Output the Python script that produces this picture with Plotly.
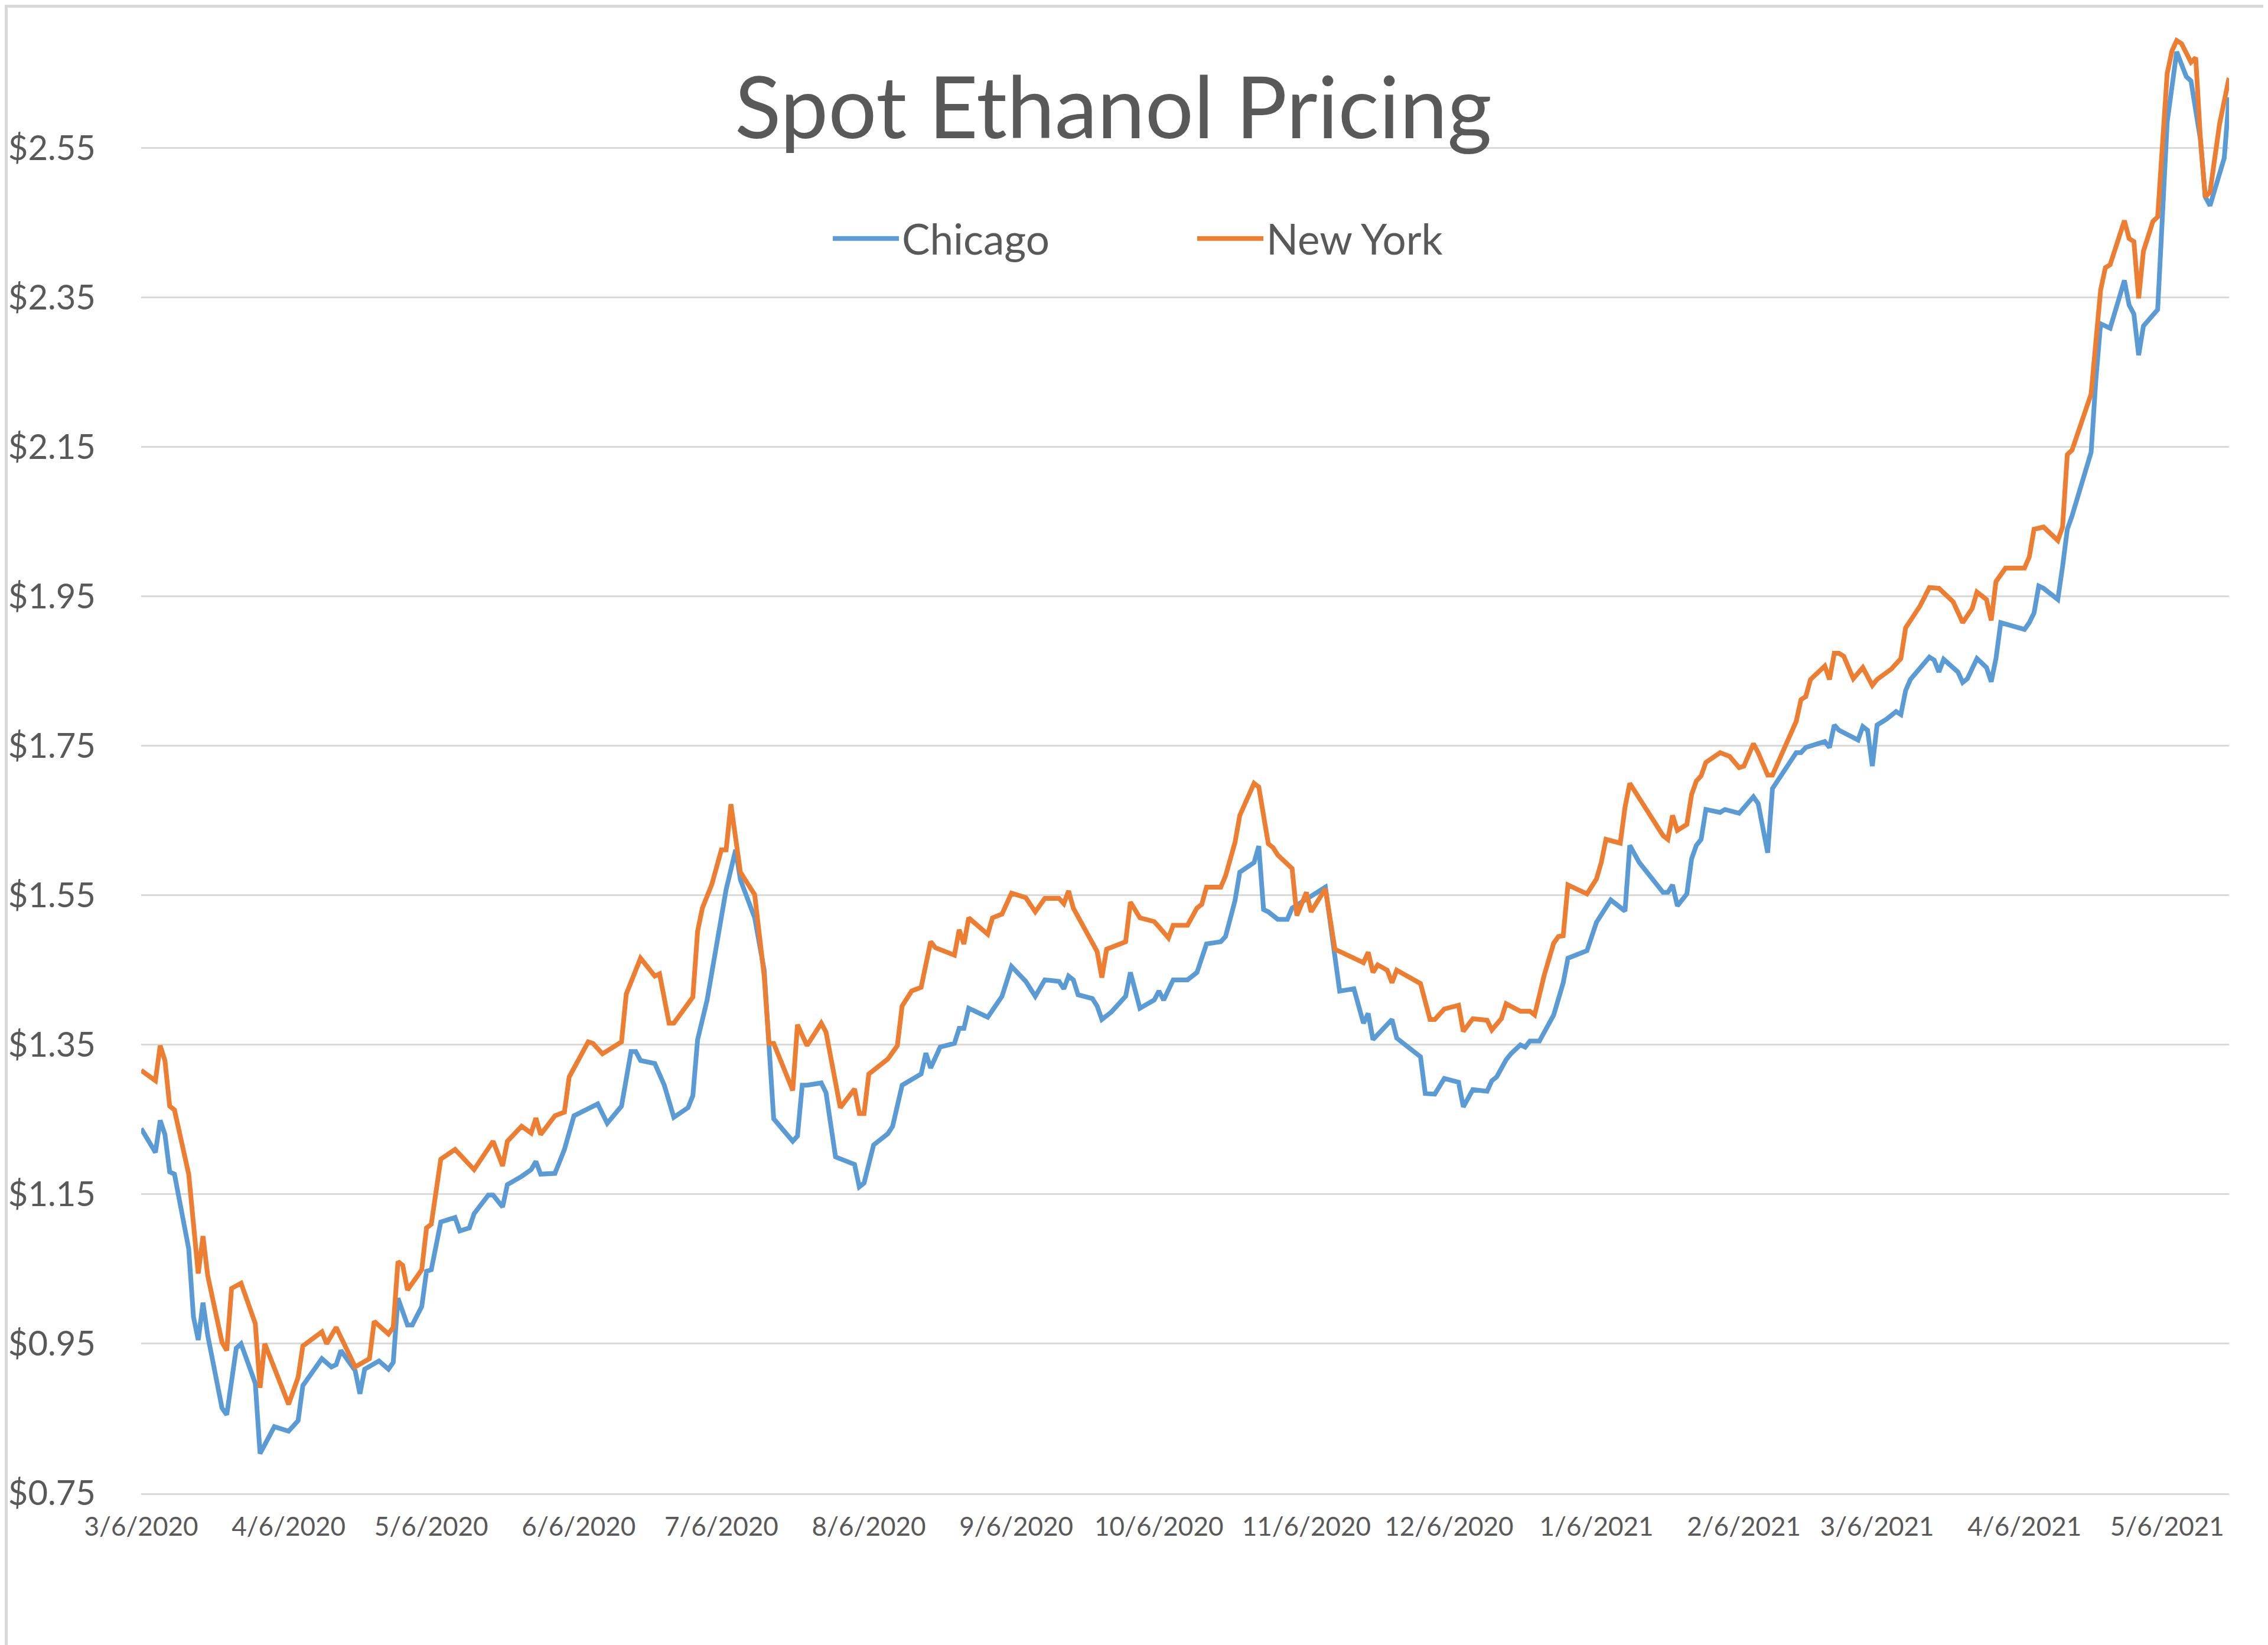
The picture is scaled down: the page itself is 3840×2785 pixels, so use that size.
import plotly.graph_objects as go

# ---------------- data ----------------
chicago_dates = [
    "2020-03-06", "2020-03-09", "2020-03-10", "2020-03-11", "2020-03-12", "2020-03-13", "2020-03-16",
    "2020-03-17", "2020-03-18", "2020-03-19", "2020-03-20", "2020-03-23", "2020-03-24", "2020-03-26",
    "2020-03-27", "2020-03-30", "2020-03-31", "2020-04-03", "2020-04-06", "2020-04-08", "2020-04-09",
    "2020-04-13", "2020-04-15", "2020-04-16", "2020-04-17", "2020-04-20", "2020-04-21", "2020-04-22",
    "2020-04-25", "2020-04-27", "2020-04-28", "2020-04-29", "2020-05-01", "2020-05-02", "2020-05-04",
    "2020-05-05", "2020-05-06", "2020-05-08", "2020-05-11", "2020-05-12", "2020-05-14", "2020-05-15",
    "2020-05-18", "2020-05-19", "2020-05-21", "2020-05-22", "2020-05-25", "2020-05-27", "2020-05-28",
    "2020-05-29", "2020-06-01", "2020-06-03", "2020-06-05", "2020-06-10", "2020-06-12", "2020-06-15",
    "2020-06-17", "2020-06-18", "2020-06-19", "2020-06-22", "2020-06-24", "2020-06-26", "2020-06-29",
    "2020-06-30", "2020-07-01", "2020-07-03", "2020-07-07", "2020-07-09", "2020-07-10", "2020-07-13",
    "2020-07-15", "2020-07-17", "2020-07-21", "2020-07-22", "2020-07-23", "2020-07-24", "2020-07-27",
    "2020-07-28", "2020-07-30", "2020-08-03", "2020-08-04", "2020-08-05", "2020-08-07", "2020-08-10",
    "2020-08-11", "2020-08-13", "2020-08-17", "2020-08-18", "2020-08-19", "2020-08-21", "2020-08-24",
    "2020-08-25", "2020-08-26", "2020-08-27", "2020-08-31", "2020-09-02", "2020-09-03", "2020-09-05",
    "2020-09-08", "2020-09-10", "2020-09-12", "2020-09-15", "2020-09-16", "2020-09-17", "2020-09-18",
    "2020-09-19", "2020-09-22", "2020-09-23", "2020-09-24", "2020-09-26", "2020-09-29", "2020-09-30",
    "2020-10-02", "2020-10-05", "2020-10-06", "2020-10-07", "2020-10-09", "2020-10-12", "2020-10-14",
    "2020-10-16", "2020-10-19", "2020-10-20", "2020-10-22", "2020-10-23", "2020-10-26", "2020-10-27",
    "2020-10-28", "2020-10-29", "2020-10-31", "2020-11-02", "2020-11-03", "2020-11-10", "2020-11-13",
    "2020-11-16", "2020-11-18", "2020-11-19", "2020-11-20", "2020-11-24", "2020-11-25", "2020-11-30",
    "2020-12-01", "2020-12-03", "2020-12-05", "2020-12-08", "2020-12-09", "2020-12-11", "2020-12-14",
    "2020-12-15", "2020-12-16", "2020-12-18", "2020-12-19", "2020-12-21", "2020-12-22", "2020-12-23",
    "2020-12-25", "2020-12-28", "2020-12-30", "2020-12-31", "2021-01-04", "2021-01-06", "2021-01-07",
    "2021-01-09", "2021-01-12", "2021-01-13", "2021-01-15", "2021-01-20", "2021-01-21", "2021-01-22",
    "2021-01-23", "2021-01-25", "2021-01-26", "2021-01-27", "2021-01-28", "2021-01-29", "2021-02-01",
    "2021-02-02", "2021-02-05", "2021-02-08", "2021-02-09", "2021-02-11", "2021-02-12", "2021-02-17",
    "2021-02-18", "2021-02-19", "2021-02-23", "2021-02-24", "2021-02-25", "2021-02-26", "2021-03-02",
    "2021-03-03", "2021-03-04", "2021-03-05", "2021-03-06", "2021-03-08", "2021-03-10", "2021-03-11",
    "2021-03-12", "2021-03-13", "2021-03-17", "2021-03-18", "2021-03-19", "2021-03-20", "2021-03-23",
    "2021-03-24", "2021-03-25", "2021-03-27", "2021-03-29", "2021-03-30", "2021-03-31", "2021-04-01",
    "2021-04-06", "2021-04-07", "2021-04-08", "2021-04-09", "2021-04-10", "2021-04-13", "2021-04-14",
    "2021-04-15", "2021-04-16", "2021-04-20", "2021-04-21", "2021-04-22", "2021-04-24", "2021-04-27",
    "2021-04-28", "2021-04-29", "2021-04-30", "2021-05-01", "2021-05-04", "2021-05-05", "2021-05-06",
    "2021-05-08", "2021-05-10", "2021-05-11", "2021-05-13", "2021-05-14", "2021-05-15", "2021-05-18",
    "2021-05-19",
]
chicago_prices = [
    1.238, 1.206, 1.249, 1.230, 1.180, 1.177, 1.077,
    0.986, 0.955, 1.005, 0.961, 0.864, 0.855, 0.944,
    0.950, 0.897, 0.803, 0.839, 0.833, 0.847, 0.894,
    0.930, 0.919, 0.922, 0.941, 0.914, 0.883, 0.916,
    0.927, 0.916, 0.925, 1.011, 0.975, 0.975, 1.000,
    1.047, 1.049, 1.113, 1.119, 1.101, 1.105, 1.124,
    1.149, 1.149, 1.133, 1.163, 1.174, 1.183, 1.194,
    1.177, 1.178, 1.210, 1.255, 1.271, 1.245, 1.268,
    1.341, 1.341, 1.329, 1.325, 1.296, 1.253, 1.266,
    1.282, 1.357, 1.410, 1.558, 1.611, 1.571, 1.520,
    1.450, 1.251, 1.221, 1.228, 1.296, 1.296, 1.299,
    1.286, 1.200, 1.190, 1.160, 1.165, 1.216, 1.231,
    1.241, 1.296, 1.311, 1.339, 1.319, 1.347, 1.352,
    1.372, 1.372, 1.399, 1.387, 1.407, 1.415, 1.455,
    1.435, 1.415, 1.437, 1.435, 1.425, 1.442, 1.437,
    1.417, 1.412, 1.402, 1.384, 1.394, 1.415, 1.447,
    1.399, 1.410, 1.422, 1.410, 1.437, 1.437, 1.447,
    1.485, 1.488, 1.495, 1.543, 1.581, 1.594, 1.616,
    1.531, 1.528, 1.518, 1.518, 1.533, 1.561, 1.422,
    1.425, 1.379, 1.392, 1.357, 1.384, 1.359, 1.334,
    1.285, 1.284, 1.305, 1.300, 1.267, 1.290, 1.288,
    1.302, 1.307, 1.330, 1.338, 1.350, 1.347, 1.355,
    1.355, 1.390, 1.433, 1.466, 1.476, 1.514, 1.524,
    1.544, 1.529, 1.617, 1.594, 1.554, 1.554, 1.564,
    1.536, 1.552, 1.599, 1.617, 1.625, 1.665, 1.661,
    1.665, 1.660, 1.682, 1.673, 1.607, 1.693, 1.741,
    1.741, 1.748, 1.756, 1.748, 1.778, 1.771, 1.758,
    1.776, 1.771, 1.723, 1.778, 1.786, 1.796, 1.792,
    1.824, 1.839, 1.869, 1.865, 1.849, 1.866, 1.849,
    1.835, 1.840, 1.867, 1.855, 1.836, 1.867, 1.915,
    1.906, 1.915, 1.928, 1.964, 1.961, 1.946, 1.990,
    2.040, 2.058, 2.143, 2.240, 2.315, 2.309, 2.373,
    2.340, 2.328, 2.273, 2.312, 2.334, 2.458, 2.585,
    2.679, 2.646, 2.640, 2.561, 2.485, 2.473, 2.537,
    2.618,
]

new_york_dates = [
    "2020-03-06", "2020-03-09", "2020-03-10", "2020-03-11", "2020-03-12", "2020-03-13", "2020-03-16",
    "2020-03-18", "2020-03-19", "2020-03-20", "2020-03-23", "2020-03-24", "2020-03-25", "2020-03-27",
    "2020-03-30", "2020-03-31", "2020-04-01", "2020-04-03", "2020-04-06", "2020-04-08", "2020-04-09",
    "2020-04-13", "2020-04-14", "2020-04-16", "2020-04-20", "2020-04-23", "2020-04-24", "2020-04-27",
    "2020-04-28", "2020-04-29", "2020-04-30", "2020-05-01", "2020-05-04", "2020-05-05", "2020-05-06",
    "2020-05-08", "2020-05-11", "2020-05-15", "2020-05-19", "2020-05-21", "2020-05-22", "2020-05-25",
    "2020-05-27", "2020-05-28", "2020-05-29", "2020-06-01", "2020-06-03", "2020-06-04", "2020-06-08",
    "2020-06-09", "2020-06-11", "2020-06-15", "2020-06-16", "2020-06-19", "2020-06-22", "2020-06-23",
    "2020-06-25", "2020-06-26", "2020-06-30", "2020-07-01", "2020-07-02", "2020-07-04", "2020-07-06",
    "2020-07-07", "2020-07-08", "2020-07-10", "2020-07-13", "2020-07-15", "2020-07-16", "2020-07-17",
    "2020-07-21", "2020-07-22", "2020-07-24", "2020-07-27", "2020-07-28", "2020-07-31", "2020-08-03",
    "2020-08-04", "2020-08-05", "2020-08-06", "2020-08-08", "2020-08-10", "2020-08-12", "2020-08-13",
    "2020-08-15", "2020-08-17", "2020-08-19", "2020-08-20", "2020-08-24", "2020-08-25", "2020-08-26",
    "2020-08-27", "2020-08-31", "2020-09-01", "2020-09-03", "2020-09-05", "2020-09-08", "2020-09-10",
    "2020-09-12", "2020-09-15", "2020-09-16", "2020-09-17", "2020-09-18", "2020-09-23", "2020-09-24",
    "2020-09-25", "2020-09-29", "2020-09-30", "2020-10-02", "2020-10-05", "2020-10-06", "2020-10-08",
    "2020-10-09", "2020-10-12", "2020-10-14", "2020-10-15", "2020-10-16", "2020-10-19", "2020-10-20",
    "2020-10-22", "2020-10-23", "2020-10-26", "2020-10-27", "2020-10-29", "2020-10-30", "2020-10-31",
    "2020-11-03", "2020-11-04", "2020-11-06", "2020-11-07", "2020-11-10", "2020-11-12", "2020-11-18",
    "2020-11-19", "2020-11-20", "2020-11-21", "2020-11-23", "2020-11-24", "2020-11-25", "2020-11-30",
    "2020-12-02", "2020-12-03", "2020-12-05", "2020-12-08", "2020-12-09", "2020-12-11", "2020-12-14",
    "2020-12-15", "2020-12-17", "2020-12-18", "2020-12-21", "2020-12-23", "2020-12-24", "2020-12-26",
    "2020-12-28", "2020-12-29", "2020-12-30", "2020-12-31", "2021-01-04", "2021-01-06", "2021-01-07",
    "2021-01-08", "2021-01-11", "2021-01-12", "2021-01-13", "2021-01-15", "2021-01-16", "2021-01-20",
    "2021-01-21", "2021-01-22", "2021-01-23", "2021-01-25", "2021-01-26", "2021-01-27", "2021-01-28",
    "2021-01-29", "2021-02-01", "2021-02-03", "2021-02-05", "2021-02-06", "2021-02-08", "2021-02-09",
    "2021-02-11", "2021-02-12", "2021-02-17", "2021-02-18", "2021-02-19", "2021-02-20", "2021-02-23",
    "2021-02-24", "2021-02-25", "2021-02-26", "2021-02-27", "2021-03-01", "2021-03-03", "2021-03-05",
    "2021-03-06", "2021-03-09", "2021-03-11", "2021-03-12", "2021-03-15", "2021-03-17", "2021-03-19",
    "2021-03-22", "2021-03-24", "2021-03-26", "2021-03-27", "2021-03-29", "2021-03-30", "2021-03-31",
    "2021-04-02", "2021-04-06", "2021-04-07", "2021-04-08", "2021-04-10", "2021-04-13", "2021-04-14",
    "2021-04-15", "2021-04-16", "2021-04-20", "2021-04-21", "2021-04-22", "2021-04-23", "2021-04-24",
    "2021-04-27", "2021-04-28", "2021-04-29", "2021-04-30", "2021-05-01", "2021-05-03", "2021-05-04",
    "2021-05-05", "2021-05-06", "2021-05-07", "2021-05-08", "2021-05-09", "2021-05-11", "2021-05-12",
    "2021-05-13", "2021-05-14", "2021-05-15", "2021-05-17", "2021-05-19",
]
new_york_prices = [
    1.316, 1.302, 1.349, 1.329, 1.268, 1.263, 1.177,
    1.044, 1.094, 1.041, 0.952, 0.941, 1.024, 1.031,
    0.977, 0.891, 0.950, 0.919, 0.869, 0.905, 0.947,
    0.966, 0.950, 0.972, 0.919, 0.930, 0.980, 0.963,
    0.972, 1.060, 1.055, 1.022, 1.049, 1.105, 1.110,
    1.197, 1.210, 1.183, 1.221, 1.188, 1.221, 1.241,
    1.232, 1.252, 1.230, 1.255, 1.260, 1.307, 1.354,
    1.352, 1.338, 1.354, 1.418, 1.466, 1.442, 1.445,
    1.379, 1.379, 1.414, 1.502, 1.533, 1.565, 1.611,
    1.611, 1.672, 1.581, 1.551, 1.442, 1.352, 1.352,
    1.289, 1.377, 1.349, 1.379, 1.367, 1.266, 1.291,
    1.258, 1.258, 1.311, 1.321, 1.331, 1.349, 1.402,
    1.422, 1.427, 1.488, 1.480, 1.470, 1.504, 1.485,
    1.520, 1.498, 1.520, 1.525, 1.553, 1.547, 1.528,
    1.546, 1.546, 1.539, 1.556, 1.533, 1.475, 1.440,
    1.478, 1.488, 1.541, 1.520, 1.515, 1.508, 1.493,
    1.510, 1.510, 1.533, 1.538, 1.561, 1.561, 1.576,
    1.621, 1.657, 1.700, 1.695, 1.619, 1.614, 1.604,
    1.586, 1.523, 1.554, 1.528, 1.559, 1.478, 1.460,
    1.474, 1.447, 1.457, 1.450, 1.433, 1.450, 1.432,
    1.384, 1.384, 1.398, 1.403, 1.368, 1.385, 1.383,
    1.370, 1.385, 1.405, 1.395, 1.395, 1.390, 1.443,
    1.486, 1.495, 1.496, 1.564, 1.552, 1.572, 1.594,
    1.625, 1.620, 1.668, 1.700, 1.678, 1.670, 1.630,
    1.625, 1.657, 1.637, 1.645, 1.685, 1.703, 1.710,
    1.728, 1.741, 1.736, 1.721, 1.723, 1.753, 1.741,
    1.711, 1.711, 1.783, 1.812, 1.816, 1.839, 1.857,
    1.839, 1.874, 1.874, 1.870, 1.840, 1.855, 1.831,
    1.839, 1.853, 1.867, 1.908, 1.937, 1.962, 1.961,
    1.943, 1.915, 1.934, 1.956, 1.946, 1.918, 1.970,
    1.988, 1.988, 2.003, 2.040, 2.043, 2.025, 2.043,
    2.140, 2.146, 2.221, 2.300, 2.360, 2.390, 2.394,
    2.453, 2.429, 2.425, 2.349, 2.412, 2.452, 2.458,
    2.549, 2.650, 2.680, 2.694, 2.690, 2.665, 2.671,
    2.561, 2.485, 2.491, 2.582, 2.644,
]

tick_dates = [
    "2020-03-06", "2020-04-06", "2020-05-06", "2020-06-06", "2020-07-06", "2020-08-06",
    "2020-09-06", "2020-10-06", "2020-11-06", "2020-12-06", "2021-01-06", "2021-02-06",
    "2021-03-06", "2021-04-06", "2021-05-06",
]
tick_labels = [
    "3/6/2020", "4/6/2020", "5/6/2020", "6/6/2020", "7/6/2020", "8/6/2020",
    "9/6/2020", "10/6/2020", "11/6/2020", "12/6/2020", "1/6/2021", "2/6/2021",
    "3/6/2021", "4/6/2021", "5/6/2021",
]
x_range = ["2020-03-06", "2021-05-19"]
y_range = [0.75, 2.738]

# ---------------- styling ----------------
W, H = 3840, 2785
ML, MR, MT, MB = 231, 74, 5, 265
PW, PH = W - ML - MR, H - MT - MB
FONT = "Lato"
TEXT = "#595959"
GRID = "#d9d9d9"
BLUE = "#5B9BD5"
ORANGE = "#ED7D31"

fig = go.Figure()
fig.add_trace(go.Scatter(x=chicago_dates, y=chicago_prices, mode="lines", name="Chicago",
                         line=dict(color=BLUE, width=8)))
fig.add_trace(go.Scatter(x=new_york_dates, y=new_york_prices, mode="lines", name="New York",
                         line=dict(color=ORANGE, width=8)))

fig.update_layout(
    width=W, height=H,
    margin=dict(l=ML, r=MR, t=MT, b=MB, pad=0),
    paper_bgcolor="white", plot_bgcolor="white",
    font=dict(family=FONT, color=TEXT),
    title=dict(text="Spot Ethanol Pricing", font=dict(family=FONT, size=145, color=TEXT),
               xref="container", yref="container", x=1877 / W, xanchor="center",
               y=1 - 175 / H, yanchor="middle"),
    showlegend=True,
    legend=dict(orientation="h", x=(2014 - ML) / PW, xanchor="center",
                y=(H - MB - 396) / PH, yanchor="middle",
                font=dict(family=FONT, size=71, color=TEXT),
                itemwidth=112, entrywidth=490, entrywidthmode="pixels",
                bgcolor="rgba(0,0,0,0)", traceorder="normal"),
    xaxis=dict(type="date", range=x_range, tickvals=tick_dates, ticktext=tick_labels,
               showgrid=False, zeroline=False, showline=True, linecolor=GRID, linewidth=3,
               ticks="", tickfont=dict(family=FONT, size=44, color=TEXT), ticklabelstandoff=16),
    yaxis=dict(range=y_range, tick0=0.75, dtick=0.2, tickformat="$.2f",
               showgrid=True, gridcolor=GRID, gridwidth=3, zeroline=False, showline=False,
               ticks="", tickfont=dict(family=FONT, size=58, color=TEXT), ticklabelstandoff=76),
    shapes=[dict(type="rect", xref="paper", yref="paper",
                 x0=(-ML + 2.5) / PW, x1=1 + (MR - 2.5) / PW,
                 y0=(-MB + 2.5) / PH, y1=1 + (MT - 2.5) / PH,
                 line=dict(color=GRID, width=5), fillcolor="rgba(0,0,0,0)", layer="below")],
)

fig.write_html("out.html")
